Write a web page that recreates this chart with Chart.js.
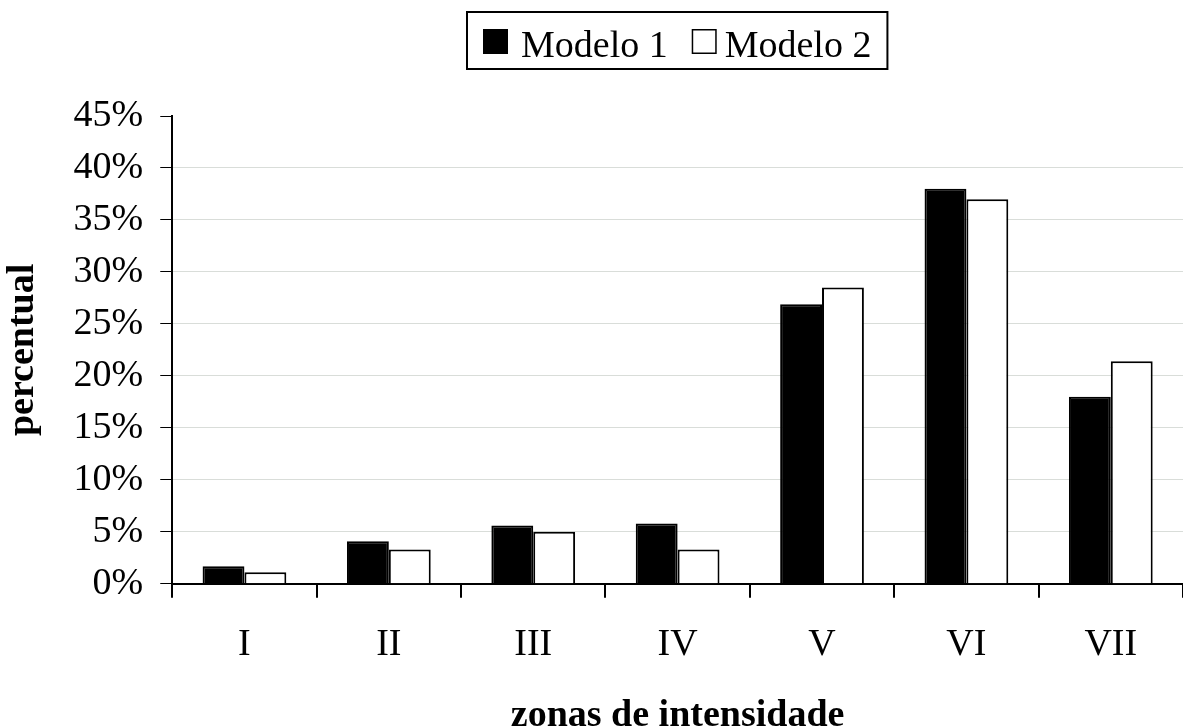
<!DOCTYPE html>
<html>
<head>
<meta charset="utf-8">
<script src="https://cdn.jsdelivr.net/npm/chart.js@4/dist/chart.umd.min.js"></script>
<style>
  html, body { margin: 0; padding: 0; background: #fff; }
  #wrap { width: 1183px; height: 728px; }
</style>
</head>
<body>
<div id="wrap"><canvas id="chart"></canvas></div>
<script>
// categories and values (percent)
var zonas = ["I", "II", "III", "IV", "V", "VI", "VII"];
var modelo1 = [1.7, 4.1, 5.6, 5.8, 26.9, 38.0, 18.0];
var modelo2 = [1.1, 3.3, 5.0, 3.3, 28.5, 37.0, 21.4];
var yTicks = [0, 5, 10, 15, 20, 25, 30, 35, 40, 45];

var serif = "'Liberation Serif', 'Times New Roman', serif";

// legend with a frame, drawn above the plot
var boxedLegend = {
  id: "boxedLegend",
  afterDraw: function (chart) {
    var ctx = chart.ctx;
    var ds = chart.data.datasets;
    var sw = 25, gapIn = [13, 8], gapItem = 24, pad = 16;
    ctx.save();
    ctx.font = "38px " + serif;
    var total = pad * 2;
    ds.forEach(function (d, i) {
      total += sw + gapIn[i] + ctx.measureText(d.label).width;
      if (i < ds.length - 1) total += gapItem;
    });
    var cx = (chart.chartArea.left + chart.chartArea.right) / 2;
    var x = Math.round(cx - total / 2), top = 12, h = 57;
    ctx.lineWidth = 2;
    ctx.strokeStyle = "#000";
    ctx.strokeRect(x, top, total, h);
    var cur = x + pad;
    ctx.textBaseline = "alphabetic";
    ds.forEach(function (d, i) {
      ctx.fillStyle = d.backgroundColor;
      ctx.fillRect(cur, 29, sw, sw);
      ctx.lineWidth = 1.5;
      ctx.strokeRect(cur + 0.75, 29.75, sw - 1.5, sw - 1.5);
      cur += sw + gapIn[i];
      ctx.fillStyle = "#000";
      ctx.fillText(d.label, cur, 57);
      cur += ctx.measureText(d.label).width + gapItem;
    });
    ctx.restore();
  }
};

new Chart(document.getElementById("chart"), {
  type: "bar",
  data: {
    labels: zonas,
    datasets: [
      { label: "Modelo 1", data: modelo1, backgroundColor: "#000", borderColor: "#000", borderWidth: 2 },
      { label: "Modelo 2", data: modelo2, backgroundColor: "#fff", borderColor: "#000", borderWidth: 2 }
    ]
  },
  options: {
    responsive: true,
    maintainAspectRatio: false,
    animation: false,
    categoryPercentage: 0.58,
    barPercentage: 1.0,
    layout: { padding: { top: 116, left: 0, right: 0, bottom: -11 } },
    plugins: {
      legend: { display: false },
      tooltip: { enabled: false }
    },
    scales: {
      x: {
        grid: { offset: true, drawOnChartArea: false, tickLength: 14, tickColor: "#000", lineWidth: 2 },
        border: { color: "#000", width: 2 },
        ticks: { color: "#000", font: { family: serif, size: 38 }, padding: 24 },
        title: { display: true, text: "zonas de intensidade", color: "#000",
                 font: { family: serif, size: 38, weight: "bold" }, padding: { top: 2, bottom: 0 } }
      },
      y: {
        min: 0,
        max: 45,
        afterBuildTicks: function (axis) {
          axis.ticks = yTicks.map(function (v) { return { value: v }; });
        },
        grid: {
          tickLength: 12,
          tickColor: "#000",
          color: function (c) {
            var v = c.tick ? c.tick.value : 0;
            return (v === 0 || v === 45) ? "rgba(0,0,0,0)" : "#d9ddd9";
          },
          lineWidth: 1
        },
        border: { color: "#000", width: 2 },
        ticks: {
          color: "#000",
          font: { family: serif, size: 38 },
          padding: 17,
          callback: function (v) { return v + "%"; }
        },
        title: { display: true, text: "percentual", color: "#000",
                 font: { family: serif, size: 38, weight: "bold" }, padding: { top: 0, bottom: 11 } }
      }
    }
  },
  plugins: [boxedLegend]
});
</script>
</body>
</html>
